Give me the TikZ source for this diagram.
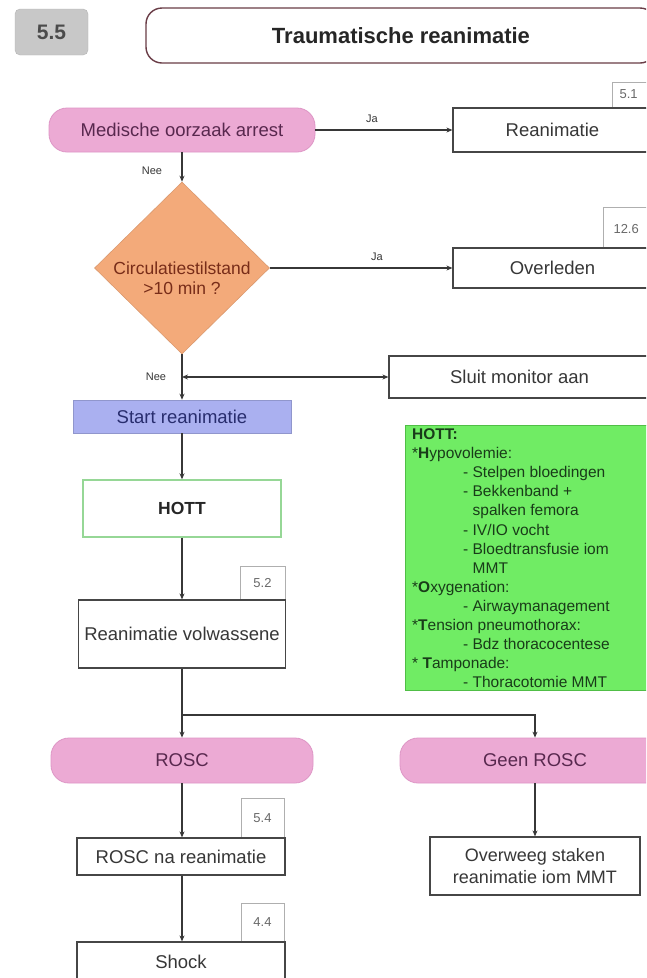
\documentclass[tikz,border=0pt]{standalone}
\usepackage{fontspec}
\setmainfont{Liberation Sans}
\usetikzlibrary{shapes.geometric,arrows.meta,calc}

\definecolor{pinkfill}{RGB}{236,170,212}
\definecolor{pinkline}{RGB}{222,150,198}
\definecolor{pinktext}{RGB}{88,40,78}
\definecolor{orangefill}{RGB}{243,170,122}
\definecolor{orangetext}{RGB}{120,45,25}
\definecolor{bluefill}{RGB}{170,176,240}
\definecolor{bluetext}{RGB}{40,45,110}
\definecolor{greenfill}{RGB}{112,236,100}
\definecolor{greenline}{RGB}{80,190,70}
\definecolor{hottline}{RGB}{150,215,150}
\definecolor{greentext}{RGB}{25,60,25}
\definecolor{badgefill}{RGB}{200,200,200}
\definecolor{badgetext}{RGB}{75,75,75}
\definecolor{titleline}{RGB}{105,60,70}
\definecolor{boxline}{RGB}{70,70,70}
\definecolor{refline}{RGB}{175,175,175}
\definecolor{reftext}{RGB}{105,105,105}
\definecolor{inkgray}{RGB}{55,55,55}

\tikzset{
  main/.style={font=\fontsize{18.5}{22}\selectfont, text=inkgray, align=center},
  stepbox/.style={main, draw=boxline, line width=1.2pt, fill=white, inner sep=0pt},
  pill/.style={main, draw=pinkline, line width=0.8pt, fill=pinkfill, text=pinktext,
               rounded corners=18pt, inner sep=0pt},
  refbox/.style={draw=refline, line width=0.8pt, fill=white, inner sep=0pt},
  reftxt/.style={font=\fontsize{13}{15}\selectfont, text=reftext},
  lbl/.style={font=\fontsize{11}{13}\selectfont, text=inkgray},
  link/.style={draw=inkgray, line width=1.2pt},
  arr/.style={link, -{Stealth[length=6pt,width=5pt]}},
  biarr/.style={link, {Stealth[length=6pt,width=5pt]}-{Stealth[length=6pt,width=5pt]}},
}

\begin{document}
\begin{tikzpicture}[x=1pt,y=-1pt]
\useasboundingbox (0,0) rectangle (646,978);
\clip (0,0) rectangle (646,978);
\fill[white] (0,0) rectangle (646,978);

% header
\node[draw=badgefill!90!black, fill=badgefill, rounded corners=5pt,
      minimum width=73pt, minimum height=46pt, inner sep=0pt,
      font=\fontsize{21}{24}\selectfont\bfseries, text=badgetext] (badge) at (51.5,32) {5.5};
\node[draw=titleline, line width=1.4pt, fill=white, rounded corners=16pt,
      minimum width=510pt, minimum height=55pt, inner sep=0pt,
      font=\fontsize{22}{26}\selectfont\bfseries, text=black!85] (title) at (401,35.5)
      {Traumatische reanimatie};

% first question
\node[pill, minimum width=266pt, minimum height=44pt] (med) at (182,130) {Medische oorzaak arrest};
\node[refbox, minimum width=48pt, minimum height=26pt] (ref51) at (636,95) {};
\node[reftxt, anchor=west] (ref51t) at (616,94) {5.1};
\node[stepbox, minimum width=199pt, minimum height=44pt] (rea) at (552.5,130) {Reanimatie};

% duration of arrest
\node[diamond, draw=orangefill!90!black, line width=0.6pt, fill=orangefill,
      minimum width=175pt, minimum height=172pt, inner sep=0pt] (dia) at (182,268) {};
\node[main, text=orangetext, font=\fontsize{17.5}{20}\selectfont] (diat) at (182,278)
      {Circulatiestilstand\\>10 min ?};
\node[refbox, minimum width=57pt, minimum height=41pt] (ref126) at (631.5,228) {};
\node[reftxt, anchor=west] (ref126t) at (610,229) {12.6};
\node[stepbox, minimum width=199pt, minimum height=40pt] (ovl) at (552.5,268) {Overleden};

\node[stepbox, minimum width=261pt, minimum height=42pt] (sluit) at (519.5,377) {Sluit monitor aan};

% left column
\node[main, draw=bluefill!85!black, line width=0.6pt, fill=bluefill, text=bluetext,
      minimum width=218pt, minimum height=33pt, inner sep=0pt] (start) at (182,416.5) {Start reanimatie};
\node[main, draw=hottline, line width=1.4pt, fill=white, text=black!85,
      minimum width=198pt, minimum height=57pt, inner sep=0pt,
      font=\fontsize{17.5}{20}\selectfont\bfseries] (hott) at (182,508.5) {HOTT};
\node[refbox, minimum width=45pt, minimum height=34pt] (ref52) at (262.5,583) {};
\node[reftxt] (ref52t) at (262.5,583) {5.2};
\node[stepbox, minimum width=207pt, minimum height=68pt] (vol) at (182,634) {Reanimatie volwassene};

\node[pill, minimum width=262pt, minimum height=45pt] (rosc) at (182,760.5) {ROSC};
\node[pill, minimum width=270pt, minimum height=45pt] (geen) at (535,760.5) {Geen ROSC};

\node[refbox, minimum width=43pt, minimum height=40pt] (ref54) at (262.5,818) {};
\node[reftxt] (ref54t) at (262.5,818) {5.4};
\node[stepbox, minimum width=208pt, minimum height=37pt] (na) at (181,856.5) {ROSC na reanimatie};

\node[refbox, minimum width=43pt, minimum height=39pt] (ref44) at (262.5,922.5) {};
\node[reftxt] (ref44t) at (262.5,922.5) {4.4};
\node[stepbox, minimum width=208pt, minimum height=40pt] (shock) at (181,962) {Shock};

\node[stepbox, minimum width=210pt, minimum height=58pt, font=\fontsize{18}{21.5}\selectfont]
      (stop) at (535,866) {Overweeg staken\\reanimatie iom MMT};

% HOTT checklist
\node[draw=greenline, line width=1pt, fill=greenfill, minimum width=255pt,
      minimum height=265pt, inner sep=0pt] (hottbox) at (532.5,557.5) {};
\node[anchor=north west, inner sep=0pt, align=left, text=greentext,
      font=\fontsize{15.5}{19.1}\selectfont] (hottlist) at (412,428.5) {%
\textbf{HOTT:}\\
*\textbf{H}ypovolemie:\\
\hspace*{51pt}- Stelpen bloedingen\\
\hspace*{51pt}- Bekkenband +\\
\hspace*{60.5pt}spalken femora\\
\hspace*{51pt}- IV/IO vocht\\
\hspace*{51pt}- Bloedtransfusie iom\\
\hspace*{60.5pt}MMT\\
*\textbf{O}xygenation:\\
\hspace*{51pt}- Airwaymanagement\\
*\textbf{T}ension pneumothorax:\\
\hspace*{51pt}- Bdz thoracocentese\\
* \textbf{T}amponade:\\
\hspace*{51pt}- Thoracotomie MMT};

% connectors
\draw[arr] (med.east) -- (rea.west);
\node[lbl] (ja1) at (372,119) {Ja};
\draw[arr] (med.south) -- (dia.north);
\node[lbl] (nee1) at (152,171) {Nee};

\draw[arr] (dia.east) -- (dia.east -| ovl.west);
\node[lbl] (ja2) at (377,257) {Ja};

\coordinate (j1) at (dia.south |- sluit.west);
\draw[arr] (dia.south) -- (start.north);
\draw[biarr] (j1) -- (sluit.west);
\node[lbl] (nee2) at (156,377) {Nee};

\draw[arr] (start.south) -- (hott.north);
\draw[arr] (hott.south) -- (vol.north);

\coordinate (br) at (182,715);
\draw[link] (vol.south) -- (br);
\draw[arr] (br) -- (rosc.north);
\draw[arr] (br) -| (geen.north);

\draw[arr] (rosc.south) -- (rosc.south |- na.north);
\draw[arr] (na.south -| rosc.south) -- (rosc.south |- shock.north);
\draw[arr] (geen.south) -- (stop.north);
\end{tikzpicture}
\end{document}
